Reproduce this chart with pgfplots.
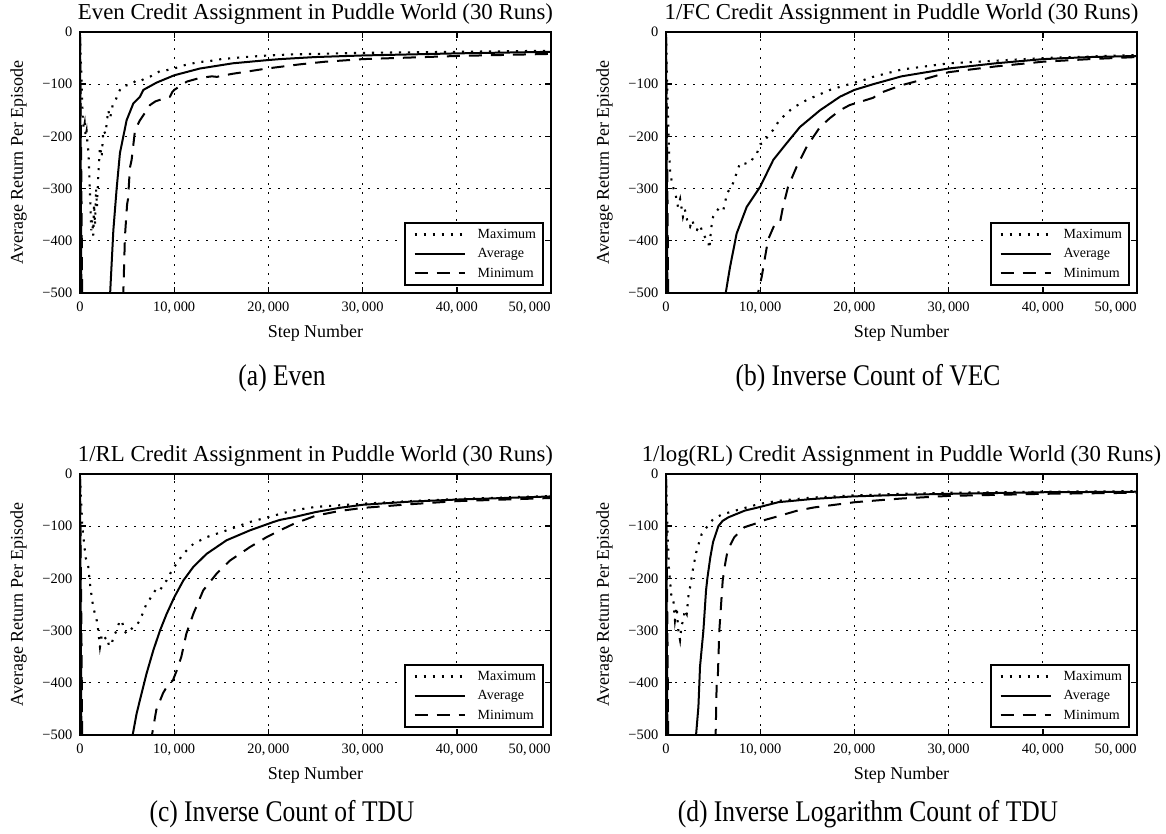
\documentclass[border=0pt]{standalone}
\usepackage{pgfplots}
\pgfplotsset{compat=1.18}
\usepackage{fontspec}
\setmainfont{Liberation Serif}
\newfontfamily\capfont[FakeStretch=0.85]{Liberation Serif}
\newcommand{\xl}[1]{#1,\,000}

\pgfplotsset{
  pw/.style={
    scale only axis, width=235.5pt, height=130.5pt,
    xmin=0, xmax=50000, ymin=-500, ymax=0,
    scaled x ticks=false, scaled y ticks=false,
    xtick={0,10000,20000,30000,40000},
    xticklabels={0,\xl{10},\xl{20},\xl{30},\xl{40}},
    extra x ticks={50000}, extra x tick labels={\xl{50}},
    extra x tick style={xticklabel style={anchor=north east}},
    ytick={-500,-400,-300,-200,-100,0},
    yticklabels={−500,−400,−300,−200,−100,0},
    tick label style={font=\fontsize{7.2}{8}\selectfont},
    xticklabel style={inner sep=0pt, yshift=-4.5pt},
    yticklabel style={inner sep=0pt, xshift=-3.7pt},
    grid=major,
    major grid style={black, line width=0.5pt, dash pattern=on 1pt off 3.5pt},
    axis line style={line width=1pt},
    tick align=inside, xtick pos=both, ytick pos=both,
    tick style={black, line width=0.7pt}, major tick length=3pt,
    title style={font=\fontsize{11.4}{13}\selectfont, at={(axis description cs:0.5,1)}, anchor=base},
    xlabel style={font=\fontsize{9}{10}\selectfont, at={(axis description cs:0.5,-0.1724)}, anchor=base},
    ylabel style={font=\fontsize{9}{10}\selectfont, at={(axis description cs:-0.1306,0.5)}, anchor=center},
    xlabel={Step Number}, ylabel={Average Return Per Episode},
    legend style={at={(axis description cs:0.985,0.027)}, anchor=south east, draw=black, line width=0.9pt,
      font=\fontsize{7}{8}\selectfont, inner xsep=2pt, inner ysep=1pt, row sep=0pt,
      nodes={inner sep=1.5pt, text height=5.2pt, text depth=1.5pt}},
    legend cell align=left,
    legend image code/.code={\path (0pt,0pt) (32pt,0pt); \draw[##1] (2.5pt,0pt) -- (27.5pt,0pt);},
  },
  mx/.style={black, line width=1.05pt, dash pattern=on 1.05pt off 3.45pt},
  av/.style={black, line width=1pt, solid},
  mn/.style={black, line width=1pt, dash pattern=on 6.5pt off 4.5pt},
}

\begin{document}
\begin{tikzpicture}
\useasboundingbox (0,0) rectangle (583pt,417pt);

% ---------- (a) ----------
\begin{axis}[pw, at={(40pt,270.5pt)}, anchor=south west,
  title={Even Credit Assignment in Puddle World (30 Runs)}]
\addplot[mx] table {
0 -5
100 -60
200 -110
300 -170
400 -185
500 -175
600 -200
700 -190
800 -215
900 -230
1000 -280
1100 -330
1200 -380
1300 -360
1400 -390
1500 -330
1600 -370
1700 -300
1800 -335
1950 -271
2120 -220
2300 -240
2480 -188
2700 -195
3000 -150
3200 -165
3500 -137
3800 -130
4030 -118
4420 -105
5000 -102
5500 -100
6010 -92
6500 -93
7000 -88
7500 -85
8000 -80
8490 -75
9000 -74
10000 -70
11000 -64
12500 -58
14000 -55
15000 -52
17500 -48
20000 -45
22500 -43
25000 -42
30000 -40
35000 -39
40000 -38
45000 -37
50000 -36
};
\addlegendentry{Maximum}
\addplot[av] table {
0 -10
100 -350
200 -700
400 -2000
1500 -3000
2800 -900
3200 -500
3540 -380
3890 -300
4240 -232
4950 -169
5660 -137
6370 -124
6720 -111
8130 -97
10000 -83
12730 -70
16230 -60
19840 -54
21200 -52
25000 -48
30000 -45
40000 -41
50000 -38
};
\addlegendentry{Average}
\addplot[mn] table {
0 -10
150 -300
300 -700
500 -2500
2000 -3000
4000 -900
4600 -500
4770 -392
5000 -330
5100 -320
5300 -260
5480 -245
5840 -188
6370 -169
7000 -152
7430 -140
8000 -133
8490 -130
9000 -127
9550 -124
9800 -115
10000 -111
10500 -105
11350 -95
12730 -88
14000 -85
14530 -86
15000 -84
16230 -80
19840 -70
23340 -62
26000 -57
30000 -52
35000 -49
40000 -46
45000 -44
50000 -42
};
\addlegendentry{Minimum}
\end{axis}

% ---------- (b) ----------
\begin{axis}[pw, at={(333pt,270.5pt)}, anchor=south west,
  title={1/FC Credit Assignment in Puddle World (30 Runs)}]
\addplot[mx] table {
0 -5
100 -80
200 -150
300 -220
450 -271
600 -285
800 -300
1000 -310
1270 -335
1500 -320
1800 -354
2000 -340
2300 -365
2550 -373
2800 -360
3000 -375
3290 -379
3600 -370
3930 -386
4200 -395
4460 -398
4600 -415
4800 -375
5000 -354
5300 -345
5730 -335
6100 -340
6480 -309
6800 -300
7110 -290
7500 -270
7860 -251
8400 -252
8920 -251
9300 -240
9660 -232
10000 -215
10300 -213
10800 -200
11360 -188
12000 -170
12850 -155
13500 -145
14970 -130
16000 -122
17400 -111
18500 -105
19850 -98
21000 -92
21970 -86
25000 -72
30000 -60
35000 -55
40000 -50
45000 -47
50000 -44
};
\addlegendentry{Maximum}
\addplot[av] table {
0 -10
100 -350
200 -700
400 -2000
3000 -3000
6000 -800
6340 -500
6800 -450
7500 -386
8570 -335
9980 -297
11390 -245
12810 -213
14220 -182
16350 -150
18470 -124
20000 -111
22000 -100
25000 -85
30000 -70
35000 -60
40000 -52
45000 -48
50000 -46
};
\addlegendentry{Average}
\addplot[mn] table {
0 -10
150 -300
300 -700
500 -2500
5000 -3000
9300 -700
9770 -500
10160 -469
10830 -398
11500 -370
11750 -367
12100 -365
12420 -335
12950 -297
13870 -258
14930 -220
16350 -182
17400 -165
18470 -150
19500 -140
20590 -134
22000 -126
22700 -117
25000 -102
27500 -90
30000 -77
35000 -66
40000 -57
45000 -52
50000 -48
};
\addlegendentry{Minimum}
\end{axis}

% ---------- (c) ----------
\begin{axis}[pw, at={(40pt,49.5pt)}, anchor=south west,
  title={1/RL Credit Assignment in Puddle World (30 Runs)}]
\addplot[mx] table {
0 -5
150 -64
250 -102
400 -127
600 -160
880 -178
1100 -217
1400 -255
1770 -280
1940 -300
2120 -331
2300 -310
2480 -318
2830 -312
3100 -330
3360 -325
3600 -310
3890 -300
4150 -285
4420 -280
4700 -300
4950 -306
5300 -300
5660 -293
6000 -290
6370 -280
7070 -248
7400 -240
7780 -229
8100 -220
8490 -223
8900 -210
9200 -204
9600 -190
10010 -178
10500 -165
10970 -153
12030 -134
13440 -121
15560 -108
18040 -92
20520 -80
22630 -70
25000 -63
30000 -57
35000 -52
40000 -48
45000 -45
50000 -42
};
\addlegendentry{Maximum}
\addplot[av] table {
0 -10
100 -350
200 -700
400 -2000
2500 -3000
5200 -700
5590 -500
6010 -459
6540 -420
7070 -382
7780 -338
8490 -300
9200 -268
10010 -236
10970 -204
12030 -178
13440 -153
15560 -127
18040 -108
20520 -92
21220 -88
22630 -83
25000 -73
27500 -65
30000 -59
35000 -53
40000 -49
45000 -46
50000 -43
};
\addlegendentry{Average}
\addplot[mn] table {
0 -10
150 -300
300 -700
500 -2500
4000 -3000
7300 -700
7640 -500
8100 -452
8810 -420
9300 -405
9870 -395
10300 -375
10760 -350
11290 -306
12030 -268
13080 -223
14500 -191
15910 -166
18040 -140
19810 -121
21000 -110
22630 -96
25000 -80
27500 -71
30000 -65
35000 -58
40000 -52
45000 -49
50000 -46
};
\addlegendentry{Minimum}
\end{axis}

% ---------- (d) ----------
\begin{axis}[pw, at={(333pt,49.5pt)}, anchor=south west,
  title={1/log(RL) Credit Assignment in Puddle World (30 Runs)}]
\addplot[mx] table {
0 -5
100 -64
200 -127
300 -178
425 -204
600 -240
780 -242
950 -280
1130 -255
1310 -300
1490 -318
1650 -290
1840 -280
2000 -260
2200 -268
2400 -230
2550 -217
2900 -178
3260 -146
3790 -115
4320 -102
5030 -86
5900 -78
6800 -73
8570 -64
9980 -57
12100 -51
15640 -45
20000 -41
25000 -38
30000 -36
40000 -34
50000 -33
};
\addlegendentry{Maximum}
\addplot[av] table {
0 -10
100 -350
200 -700
400 -2000
1500 -3000
2900 -800
3190 -500
3440 -446
3610 -369
3970 -300
4250 -223
4390 -200
4700 -160
5000 -130
5560 -100
6000 -90
6620 -83
8390 -70
9800 -64
11930 -54
15470 -48
19790 -43
25000 -40
30000 -38
40000 -35
50000 -34
};
\addlegendentry{Average}
\addplot[mn] table {
0 -10
150 -300
300 -700
500 -2500
3000 -3000
5100 -800
5270 -500
5380 -400
5500 -390
5660 -300
6020 -204
6300 -170
6550 -146
7250 -121
8320 -102
9500 -95
10090 -92
10500 -88
11500 -83
13980 -70
15750 -64
20070 -54
22830 -50
25000 -47
30000 -42
35000 -40
40000 -38
45000 -37
50000 -36
};
\addlegendentry{Minimum}
\end{axis}

\node[font=\capfont\fontsize{15}{17}\selectfont, anchor=base] at (141pt,224pt) {(a) Even};
\node[font=\capfont\fontsize{15}{17}\selectfont, anchor=base] at (434pt,224pt) {(b) Inverse Count of VEC};
\node[font=\capfont\fontsize{15}{17}\selectfont, anchor=base] at (141pt,6pt) {(c) Inverse Count of TDU};
\node[font=\capfont\fontsize{15}{17}\selectfont, anchor=base] at (434pt,6pt) {(d) Inverse Logarithm Count of TDU};
\end{tikzpicture}
\end{document}
